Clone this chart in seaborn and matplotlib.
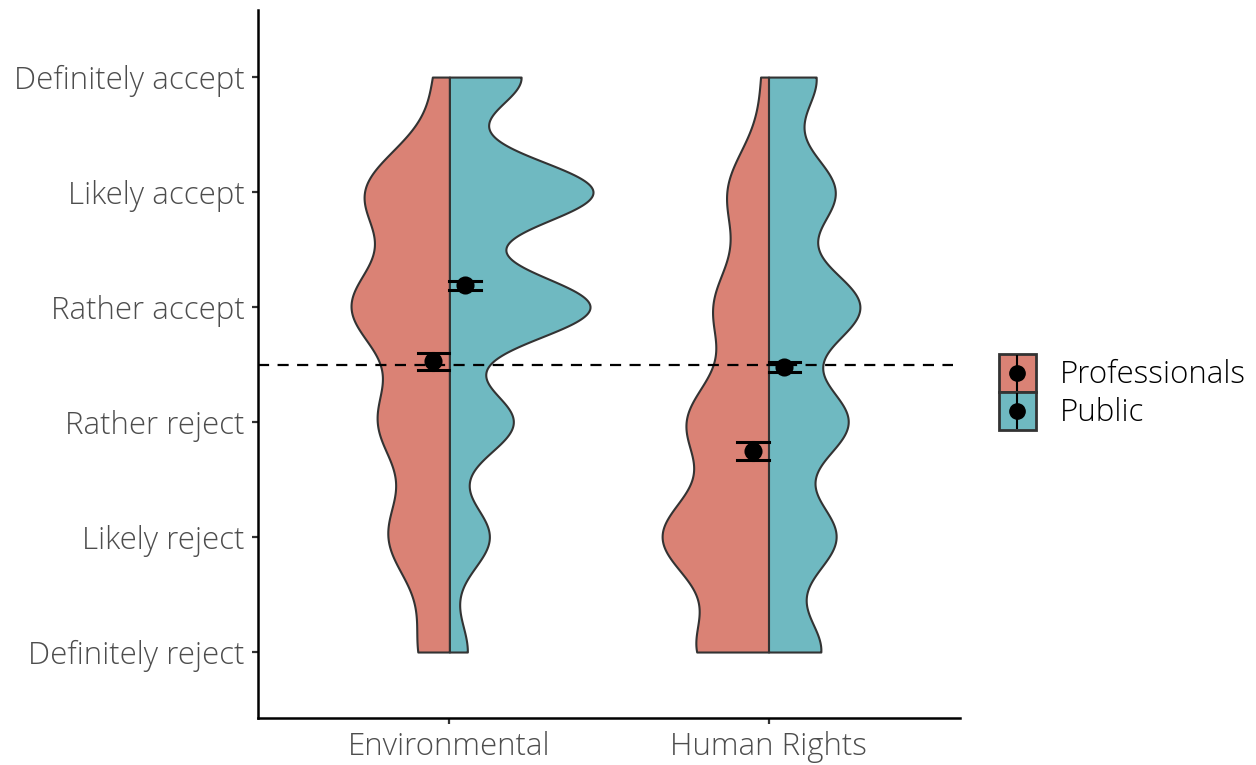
import numpy as np
import pandas as pd
import matplotlib
matplotlib.use("Agg")
import matplotlib.pyplot as plt
import seaborn as sns
from matplotlib.patches import Patch
from matplotlib.lines import Line2D
from matplotlib.legend_handler import HandlerTuple, HandlerLine2D

# response scale (1 = Definitely reject ... 6 = Definitely accept)
levels = ["Definitely reject", "Likely reject", "Rather reject",
          "Rather accept", "Likely accept", "Definitely accept"]
scores = [1, 2, 3, 4, 5, 6]
categories = ["Environmental", "Human Rights"]
groups = ["Professionals", "Public"]

# number of respondents per answer
env_professionals = [27, 53, 61, 85, 74, 13]
env_public = [48, 107, 171, 377, 385, 192]
hr_professionals = [62, 92, 70, 47, 36, 6]
hr_public = [166, 213, 251, 289, 210, 151]

colors = {"Professionals": "#DA8275", "Public": "#6FB9C1"}
midpoint = 3.5

counts = {
    ("Environmental", "Professionals"): env_professionals,
    ("Environmental", "Public"): env_public,
    ("Human Rights", "Professionals"): hr_professionals,
    ("Human Rights", "Public"): hr_public,
}
rows = []
for (cat, grp), cnt in counts.items():
    vals = np.repeat(scores, cnt)
    rows.append(pd.DataFrame({"category": cat, "group": grp, "score": vals}))
df = pd.concat(rows, ignore_index=True)


class CenteredLine(HandlerLine2D):
    # keep the marker in the middle of the key box
    def create_artists(self, legend, orig_handle, xdescent, ydescent,
                       width, height, fontsize, trans):
        return super().create_artists(legend, orig_handle, xdescent, ydescent,
                                      width, height - ydescent, fontsize, trans)


plt.rcParams["font.family"] = ["Open Sans", "DejaVu Sans"]

fig = plt.figure(figsize=(12.56, 7.65), dpi=100)
ax = fig.add_axes([0.2054, 0.0614, 0.5589, 0.9255])

sns.violinplot(data=df, x="category", y="score", hue="group",
               order=categories, hue_order=groups, split=True, inner=None,
               cut=0, width=0.9, bw_method="scott", bw_adjust=0.9,
               density_norm="area", common_norm=True, gridsize=400,
               palette=colors, saturation=1, linecolor="#333333",
               linewidth=1.5, legend=False, ax=ax)

ax.axhline(midpoint, xmax=0.99, color="black", linewidth=1.6,
           dashes=(5, 3.8), zorder=3)

sns.pointplot(data=df, x="category", y="score", hue="group",
              order=categories, hue_order=groups, errorbar="se",
              dodge=0.1, linestyle="none", markers="o", markersize=11,
              capsize=0.1, err_kws={"linewidth": 2.2},
              palette={"Professionals": "black", "Public": "black"},
              legend=False, ax=ax)

ax.set_xlim(-0.6, 1.6)
ax.set_ylim(0.426, 6.583)
ax.set_yticks(scores)
ax.set_yticklabels(levels)
ax.set_xlabel("")
ax.set_ylabel("")
for s in ["top", "right"]:
    ax.spines[s].set_visible(False)
for s in ["left", "bottom"]:
    ax.spines[s].set_linewidth(1.8)
    ax.spines[s].set_color("black")
ax.tick_params(axis="both", length=4.5, width=1.6, color="#333333",
               labelsize=22.5, labelcolor="#4D4D4D", pad=5)
for lab in ax.get_xticklabels() + ax.get_yticklabels():
    lab.set_fontweight("light")

handles = []
for g in groups:
    handles.append((
        Patch(facecolor=colors[g], edgecolor="#333333", linewidth=2),
        Line2D([], [], marker="|", color="black", markersize=26,
               markeredgewidth=1.5, linestyle="none"),
        Line2D([], [], marker="o", color="black", markersize=11,
               linestyle="none"),
    ))
fig.legend(handles, groups,
           handler_map={tuple: HandlerTuple(ndivide=1), Line2D: CenteredLine()},
           loc="center left", bbox_to_anchor=(0.795, 0.4876), frameon=False,
           prop={"size": 22.5, "weight": "light"}, handlelength=1.2,
           handleheight=1.51, labelspacing=0, handletextpad=0.75,
           borderpad=0, borderaxespad=0)

fig.savefig("out.png", dpi=100)
